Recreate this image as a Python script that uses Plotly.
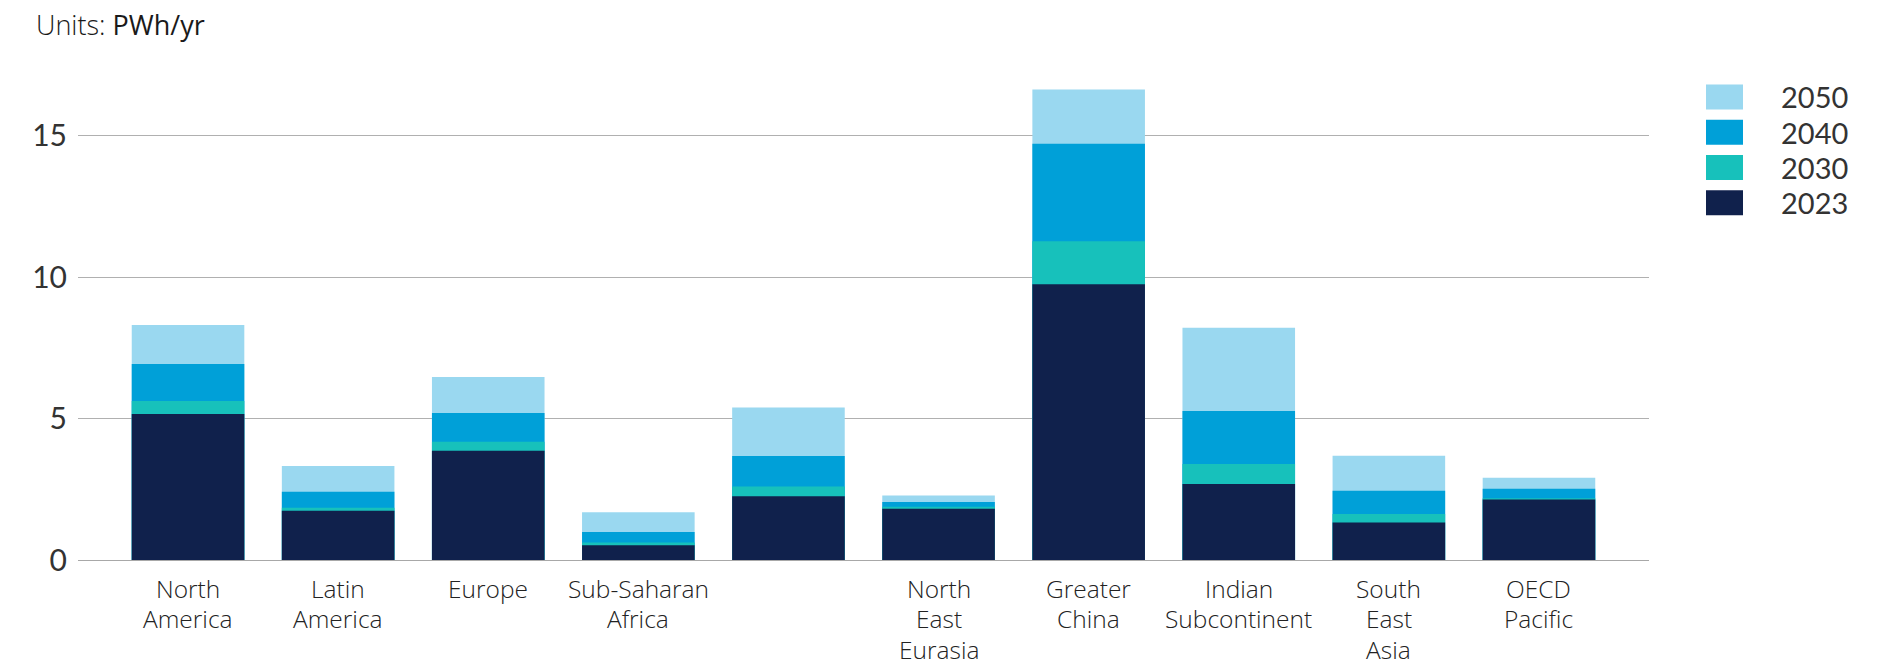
import plotly.graph_objects as go

# Regional electricity demand, PWh/yr
regions = [
    "North<br>America", "Latin<br>America", "Europe", "Sub-Saharan<br>Africa", "",
    "North<br>East<br>Eurasia", "Greater<br>China", "Indian<br>Subcontinent",
    "South<br>East<br>Asia", "OECD<br>Pacific",
]
years = ["2050", "2040", "2030", "2023"]
demand_2023 = [5.16, 1.74, 3.86, 0.52, 2.25, 1.81, 9.75, 2.69, 1.33, 2.14]
demand_2030 = [5.62, 1.85, 4.18, 0.62, 2.60, 1.88, 11.27, 3.39, 1.63, 2.18]
demand_2040 = [6.93, 2.41, 5.20, 0.99, 3.68, 2.05, 14.72, 5.27, 2.45, 2.52]
demand_2050 = [8.31, 3.32, 6.47, 1.69, 5.39, 2.28, 16.63, 8.21, 3.69, 2.91]
y_ticks = [0, 5, 10, 15]

series = {
    "2050": demand_2050,
    "2040": demand_2040,
    "2030": demand_2030,
    "2023": demand_2023,
}
colors = {
    "2050": "#9AD8F0",
    "2040": "#00A0D8",
    "2030": "#17C1BB",
    "2023": "#10214C",
}

FONT = "Lato"
LABEL_FONT = "Open Sans"
x_pos = list(range(len(regions)))

fig = go.Figure()
# Later years drawn first so earlier years sit in front
for yr in years:
    fig.add_trace(go.Bar(
        x=x_pos, y=series[yr], name=yr,
        marker=dict(color=colors[yr], line=dict(width=0)),
        showlegend=False,
    ))

W, H = 1895, 665
ml, mr, mt, mb = 78, 246, 64.5, 104.7
pw, ph = W - ml - mr, H - mt - mb


def paper_y(px):
    """Convert a pixel row (from the top of the page) to paper y."""
    return 1 - (px - mt) / ph


shapes, annots = [], []

# Category labels under the axis, one annotation per line for tight spacing
line_gap = 30.8
first_line = 588.5
for xi, label in zip(x_pos, regions):
    for j, part in enumerate(label.split("<br>")):
        if not part:
            continue
        annots.append(dict(xref="x", yref="paper", x=xi,
                           y=paper_y(first_line + j * line_gap),
                           xanchor="center", yanchor="middle", showarrow=False,
                           borderpad=0, text=part,
                           font=dict(family=LABEL_FONT, size=24.5, color="#222222",
                                     weight=300)))

# Legend: swatches and labels to the right of the plot
row_top = 84
for i, yr in enumerate(years):
    top = row_top + i * 35.3
    shapes.append(dict(type="rect", xref="paper", yref="paper",
                       x0=(1706 - ml) / pw, x1=(1743 - ml) / pw,
                       y0=paper_y(top + 25), y1=paper_y(top),
                       fillcolor=colors[yr], line=dict(width=0)))
    annots.append(dict(xref="paper", yref="paper",
                       x=(1779 - ml) / pw, y=paper_y(top + 12.5),
                       xanchor="left", yanchor="middle", showarrow=False,
                       text=yr, font=dict(family=FONT, size=29, color="#333333")))

annots.append(dict(xref="paper", yref="paper",
                   x=(34 - ml) / pw, y=paper_y(24),
                   xanchor="left", yanchor="middle", showarrow=False,
                   text="<span style='font-weight:300'>Units: </span>PWh/yr",
                   font=dict(family=LABEL_FONT, size=27, color="#1a1a1a")))

fig.update_layout(
    width=W, height=H,
    margin=dict(l=ml, r=mr, t=mt, b=mb, pad=0, autoexpand=False),
    paper_bgcolor="white", plot_bgcolor="white",
    barmode="overlay", bargap=0.25,
    shapes=shapes, annotations=annots,
    font=dict(family=FONT, color="#333333"),
)
fig.update_xaxes(
    range=[-0.733, 9.733], automargin=False,
    showticklabels=False,
    showgrid=False, zeroline=False,
    showline=True, linecolor="#A8A8A8", linewidth=1,
    ticks="",
)
fig.update_yaxes(
    range=[0, 17.5], automargin=False,
    tickmode="array", tickvals=y_ticks,
    tickfont=dict(family=FONT, size=30, color="#333333"),
    showgrid=True, gridcolor="#B0B0B0", gridwidth=1,
    zeroline=False, showline=False,
    ticks="", ticklabelstandoff=10,
)

fig.write_html("out.html")
